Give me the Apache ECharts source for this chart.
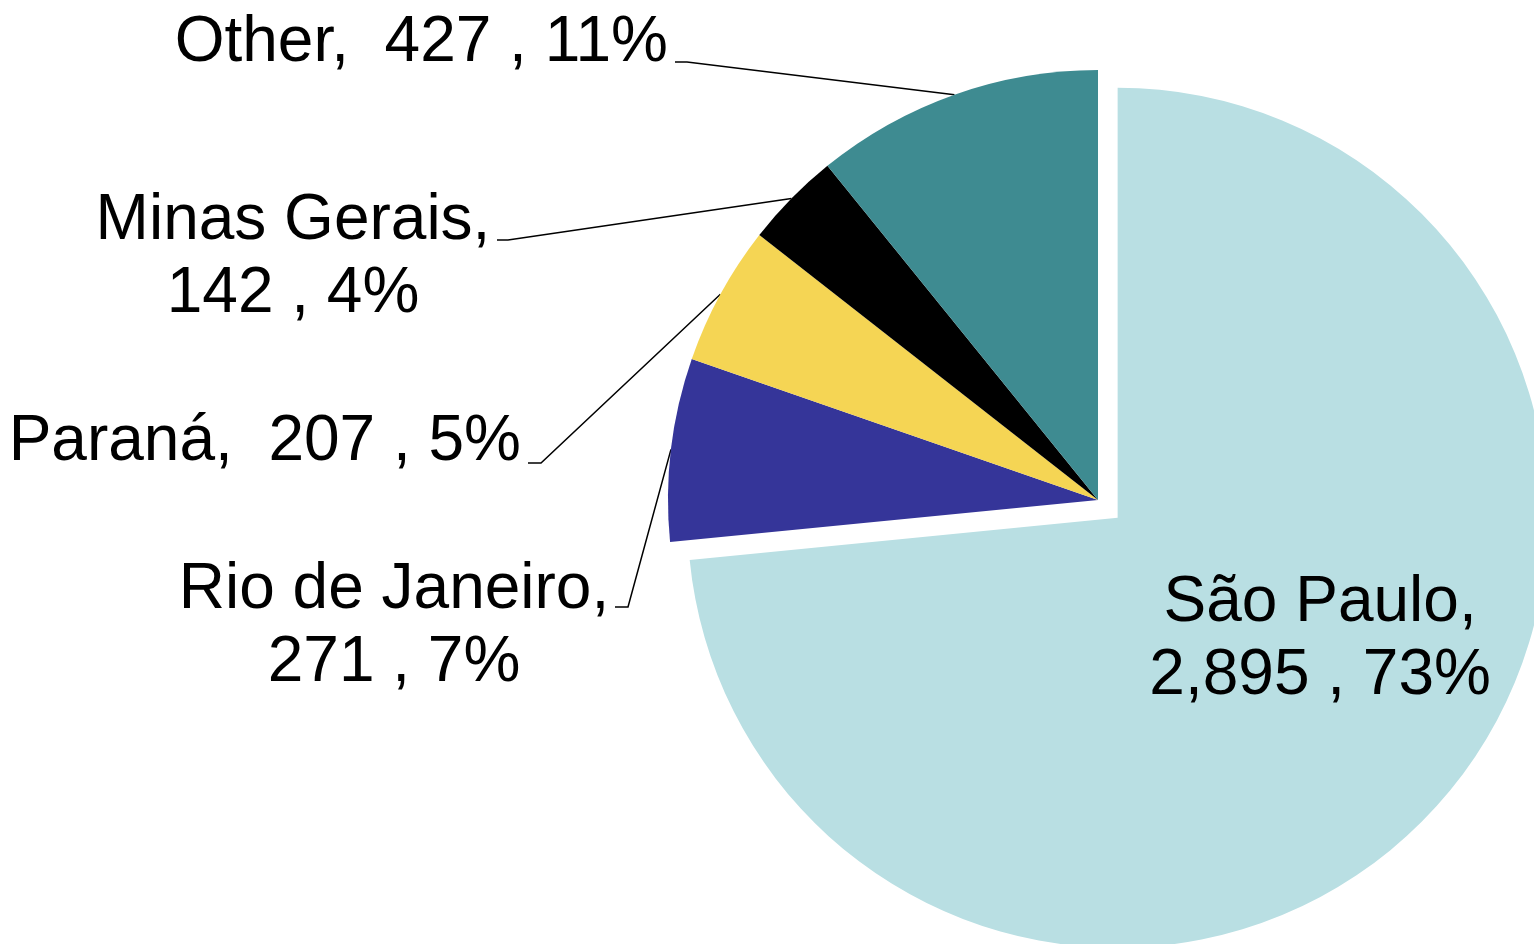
<!DOCTYPE html>
<html>
<head>
<meta charset="utf-8">
<script src="https://cdn.jsdelivr.net/npm/echarts@6/dist/echarts.min.js"></script>
<style>
  html, body { margin: 0; padding: 0; background: #fff; }
  #pieChart { width: 1534px; height: 944px; }
</style>
</head>
<body>
<div id="pieChart"></div>
<script>
// data, clockwise from 12 o'clock
var stateNames = ["São Paulo", "Rio de Janeiro", "Paraná", "Minas Gerais", "Other"];
var stateValues = [2895, 271, 207, 142, 427];
var sliceColors = ["#B9DFE3", "#353599", "#F5D554", "#000000", "#3E8B91"];
// labels that break onto a second line
var wrapNames = ["São Paulo", "Rio de Janeiro", "Minas Gerais"];

var total = stateValues.reduce(function (a, b) { return a + b; }, 0);

// where each label sits (x, y, align) and where its leader line bends
// São Paulo stays inside its slice, only nudged (dx, dy)
var labelSpots = {
  "São Paulo":      { dx: 41, dy: -24 },
  "Rio de Janeiro": { x: 394, y: 627, align: "center", bend: [628, 607], end: [615, 607] },
  "Paraná":         { x: 521, y: 442, align: "right", bend: [541, 463], end: [528, 463] },
  "Minas Gerais":   { x: 293, y: 258, align: "center", bend: [508, 240], end: [497, 240] },
  "Other":          { x: 668, y: 43, align: "right", bend: [687, 62], end: [675, 62] }
};

var pieData = stateNames.map(function (name, i) {
  var item = {
    name: name,
    value: stateValues[i],
    itemStyle: { color: sliceColors[i] }
  };
  if (i === 0) {
    item.selected = true;
    item.label = { position: "inside" };
    item.labelLine = { show: false };
  }
  return item;
});

function fmtNum(v) {
  return String(v).replace(/\B(?=(\d{3})+(?!\d))/g, ",");
}

var chart = echarts.init(document.getElementById("pieChart"));
var option = {
  animation: false,
  series: [
    {
      type: "pie",
      center: [1098, 500],
      radius: [0, 430],
      startAngle: 90,
      clockwise: true,
      selectedMode: "single",
      selectedOffset: 26.5,
      avoidLabelOverlap: false,
      emphasis: { disabled: true },
      itemStyle: { borderWidth: 0 },
      label: {
        show: true,
        position: "outside",
        color: "#000",
        fontFamily: "Liberation Sans, Arial, sans-serif",
        fontSize: 64,
        lineHeight: 73,
        formatter: function (p) {
          var pct = Math.round(p.value / total * 100);
          var sep = wrapNames.indexOf(p.name) >= 0 ? ",\n" : ",  ";
          return p.name + sep + fmtNum(p.value) + " , " + pct + "%";
        }
      },
      labelLine: {
        show: true,
        length: 20,
        length2: 10,
        lineStyle: { color: "#000", width: 1.5 }
      },
      labelLayout: function (params) {
        var name = stateNames[params.dataIndex];
        var spot = labelSpots[name];
        if (spot.x == null) {
          return { dx: spot.dx, dy: spot.dy };
        }
        var out = {
          x: spot.x,
          y: spot.y,
          align: spot.align,
          verticalAlign: "middle"
        };
        if (spot.bend && params.labelLinePoints) {
          out.labelLinePoints = [params.labelLinePoints[0], spot.bend, spot.end];
        }
        return out;
      },
      data: pieData
    }
  ]
};
chart.setOption(option);
</script>
</body>
</html>
